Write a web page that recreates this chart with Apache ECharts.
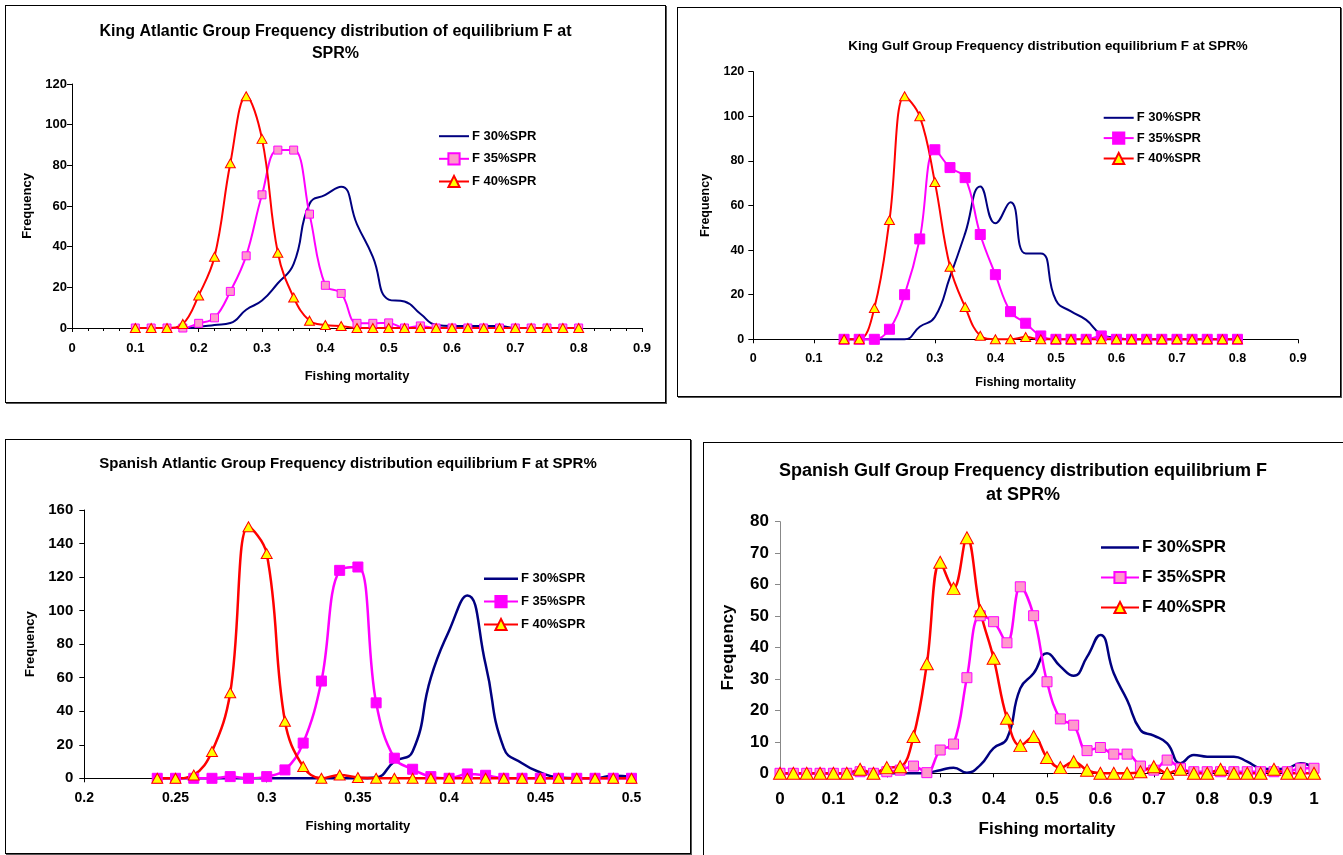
<!DOCTYPE html>
<html><head><meta charset="utf-8">
<script src="https://cdn.jsdelivr.net/npm/echarts@6/dist/echarts.min.js"></script>
<style>
html,body{margin:0;padding:0;background:#fff;overflow:hidden;width:1343px;height:855px;position:relative}
.box{position:absolute;border:1px solid #000;box-shadow:1px 1px 0 #555;box-sizing:border-box}
.ch{position:absolute}
</style></head><body>
<div class="box" style="left:5px;top:5px;width:661px;height:398px"></div>
<div class="box" style="left:677px;top:7px;width:664px;height:390px"></div>
<div class="box" style="left:5px;top:439px;width:686px;height:415px"></div>
<div class="box" style="left:703px;top:442px;width:660px;height:440px"></div>
<div id="c1" class="ch" style="left:6px;top:6px;width:659px;height:396px"></div>
<div id="c2" class="ch" style="left:678px;top:8px;width:740px;height:388px"></div>
<div id="c3" class="ch" style="left:6px;top:440px;width:684px;height:413px"></div>
<div id="c4" class="ch" style="left:703px;top:441px;width:640px;height:414px"></div>
<script>
// ---- King Atlantic ----
const kaX   = [0.1,0.125,0.15,0.175,0.2,0.225,0.25,0.275,0.3,0.325,0.35,0.375,0.4,0.425,0.45,0.475,0.5,0.525,0.55,0.575,0.6,0.625,0.65,0.675,0.7,0.725,0.75,0.775,0.8];
const kaF30 = [0,0,0,0,0.5,1.5,2.5,9,13.5,22,31.5,61,65.5,69.5,51,35,14,13,7,1.5,1,1,1,1,0,0,0,0,0];
const kaF35 = [0,0,0,0,2.3,5,18,35.5,65.5,87.5,87.5,56,21,17,2.3,2.3,2.5,0,1,0,0,0,0,0,0,0,0,0,0];
const kaF40 = [0,0,0,2,16,35,81,114,93,37,15,3.6,1.5,1,0,0,0,0,0,0,0,0,0,0,0,0,0,0,0];
// ---- King Gulf ----
const kgX   = [0.15,0.175,0.2,0.225,0.25,0.275,0.3,0.325,0.35,0.375,0.4,0.425,0.45,0.475,0.5,0.525,0.55,0.575,0.6,0.625,0.65,0.675,0.7,0.725,0.75,0.775,0.8];
const kgF30 = [0,0,0,0,0,5.6,10,28,47.5,68.5,52,61.5,38.5,38.5,17.5,12.5,8.7,2.2,0.6,0,0,0,0,0,0,0,0];
const kgF35 = [0,0,0,4.5,20,45,85,77,72.5,47,29,12.4,7.2,1.5,0,0,0,1.5,0,0,0,0,0,0,0,0,0];
const kgF40 = [0,0,14,53.5,109,100,70.5,32.5,14.5,1.6,0,0,1,0,0,0,0,0,0,0,0,0,0,0,0,0,0];
// ---- Spanish Atlantic ----
const saX   = [0.24,0.25,0.26,0.27,0.28,0.29,0.30,0.31,0.32,0.33,0.34,0.35,0.36,0.37,0.38,0.39,0.40,0.41,0.42,0.43,0.44,0.45,0.46,0.47,0.48,0.49,0.50];
const saF30 = [0,0,0,0,0,0,0,0,0,0,0,0,0.5,10,16,60,88,109,68,18,9,3.5,0.5,0,0,1.5,1];
const saF35 = [0,0,0,0,1,0,1,5,21,58,124,126,45,12,5.4,1,0,2.6,1.8,0,0,0,0,0,0,0,0];
const saF40 = [0,0,2,16,51,150,134,34,7,0,2,0.5,0,0,0,0,0,0,0,0,0,0,0,0,0,0,0];
// ---- Spanish Gulf ----
const sgX   = [0,0.025,0.05,0.075,0.1,0.125,0.15,0.175,0.2,0.225,0.25,0.275,0.3,0.325,0.35,0.375,0.4,0.425,0.45,0.475,0.5,0.525,0.55,0.575,0.6,0.625,0.65,0.675,0.7,0.725,0.75,0.775,0.8,0.825,0.85,0.875,0.9,0.925,0.95,0.975,1];
const sgF30 = [0,0,0,0,0,0,0,0,0,0,0,0.2,1,1.8,0.2,2.6,8,11,27,31.8,38.2,34,31,37,44,31.8,23.3,13.8,12,9.5,3.2,5.8,5.3,5.3,5.3,3.7,1.6,1.3,1.6,3.2,1.6];
const sgF35 = [0,0,0,0,0,0,0.5,0,0.5,1,2.3,0.2,7.4,9.3,30.4,50.1,48.2,41.5,59.3,50.1,29.1,17.3,15.3,7.2,8.2,6.1,6.1,2.3,1,4.2,1.6,0.5,0.5,0.5,0.5,0.5,0.5,0.5,0.5,1.6,1.6];
const sgF40 = [0,0,0,0,0,0,1.3,0,1.8,2.1,11.7,34.8,67.1,58.8,74.9,51.7,36.6,17.5,8.8,11.7,5,1.8,3.7,1,0,0,0,0.5,2.1,0,1.3,0,0,1.3,0,0,0,1.3,0,0,0];

const seriesNames = ['F 30%SPR','F 35%SPR','F 40%SPR'];
const FONT = "'Liberation Sans', Arial, sans-serif";

function pairs(xs, ys){ return xs.map((x,i)=>[x, ys[i]]); }

function build(id, c){
  const chart = echarts.init(document.getElementById(id), null, {renderer:'canvas'});
  const txt = (size)=>({fontFamily:FONT, fontWeight:'bold', fontSize:size, color:'#000'});
  chart.setOption({
    animation:false,
    title:{text:c.title, left:'center', top:c.titleTop, padding:0,
      textStyle:Object.assign(txt(c.titleSize),{lineHeight:c.titleLH})},
    legend:{orient:'vertical', left:c.legLeft, top:c.legTop, itemWidth:c.legW, itemHeight:14,
      itemGap:c.legGap, padding:0, textStyle:Object.assign(txt(c.legSize),{padding:[0,0,0,-2]}),
      data:[{name:seriesNames[0], icon:'path://M0,0H'+c.legW+'V'+c.lw+'H0Z'}, seriesNames[1], seriesNames[2]]},
    grid:{left:c.grid[0], top:c.grid[1], width:c.grid[2], height:c.grid[3], containLabel:false},
    xAxis:{type:'value', min:c.xMin, max:c.xMax, interval:c.xInt,
      name:'Fishing mortality', nameLocation:'middle', nameGap:c.xNameGap, nameTextStyle:txt(c.nameSize),
      axisLine:{show:true, onZero:false, lineStyle:{color:'#000', width:1}},
      axisTick:{show:true, inside:false, length:4, lineStyle:{color:'#000'}},
      minorTick:{show:!!c.minor, splitNumber:4, length:3, lineStyle:{color:'#000'}},
      axisLabel:Object.assign(txt(c.labSize),{margin:c.xLabMargin}),
      splitLine:{show:false}},
    yAxis:{type:'value', min:0, max:c.yMax, interval:c.yInt,
      name:'Frequency', nameLocation:'middle', nameGap:c.yNameGap, nameTextStyle:txt(c.nameSize),
      axisLine:{show:true, lineStyle:{color:c.yLineColor||'#000', width:1}},
      axisTick:{show:true, inside:false, length:5, lineStyle:{color:c.yLineColor||'#000'}},
      axisLabel:Object.assign(txt(c.yLabSize||c.labSize),{margin:c.yLabMargin}),
      splitLine:{show:false}},
    series:[
      {name:seriesNames[0], type:'line', smooth:0.5, symbol:'none', clip:false,
        lineStyle:{color:'#000080', width:c.lw}, itemStyle:{color:'#000080'},
        data:pairs(c.x, c.f30)},
      {name:seriesNames[1], type:'line', smooth:0.4, symbol:'rect', symbolSize:c.sq, clip:false,
        lineStyle:{color:'#FF00FF', width:c.lw},
        itemStyle:{color:c.sqFill, borderColor:'#FF00FF', borderWidth:1},
        data:pairs(c.x, c.f35)},
      {name:seriesNames[2], type:'line', smooth:0.4, symbol:'triangle', symbolSize:c.tri, clip:false,
        lineStyle:{color:'#FF0000', width:c.lw},
        itemStyle:{color:'#FFFF00', borderColor:'#FF0000', borderWidth:1},
        data:pairs(c.x, c.f40)}
    ]
  });
}

build('c1', {
  title:'King Atlantic Group Frequency distribution of equilibrium F at\nSPR%', titleTop:14, titleSize:16, titleLH:22.5,
  legLeft:432, legTop:123.7, legW:30, legGap:9.5, legSize:13,
  grid:[66,78,570,244], xMin:0, xMax:0.9, xInt:0.1, yMax:120, yInt:20, minor:true,
  labSize:13, nameSize:13, xNameGap:42, yNameGap:37, xLabMargin:14, yLabMargin:5,
  lw:2, sq:8, sqFill:'#FF99CC', tri:[10,9],
  x:kaX, f30:kaF30, f35:kaF35, f40:kaF40
});
build('c2', {
  title:'King Gulf Group Frequency distribution equilibrium F at SPR%', titleTop:30, titleSize:13.4, titleLH:16,
  legLeft:424.7, legTop:103.3, legW:30, legGap:7.2, legSize:13,
  grid:[75.3,63.7,544.7,267.6], xMin:0, xMax:0.9, xInt:0.1, yMax:120, yInt:20,
  labSize:12.5, nameSize:12.5, xNameGap:37, yNameGap:40, xLabMargin:13, yLabMargin:9,
  lw:2, sq:10, sqFill:'#FF00FF', tri:[10,9],
  x:kgX, f30:kgF30, f35:kgF35, f40:kgF40
});
build('c3', {
  title:'Spanish Atlantic Group Frequency distribution equilibrium F at SPR%', titleTop:14.5, titleSize:15, titleLH:18,
  legLeft:477, legTop:132.3, legW:34, legGap:9.7, legSize:13,
  grid:[78.3,70,547.2,268.3], xMin:0.2, xMax:0.5, xInt:0.05, yMax:160, yInt:20,
  labSize:14, yLabSize:15, nameSize:13, xNameGap:42, yNameGap:45, xLabMargin:13, yLabMargin:11,
  lw:2.5, sq:10, sqFill:'#FF00FF', tri:[11,10],
  x:saX, f30:saF30, f35:saF35, f40:saF40
});
build('c4', {
  title:'Spanish Gulf Group Frequency distribution equilibrium F\nat SPR%', titleTop:18.5, titleSize:18, titleLH:24,
  legLeft:397, legTop:98, legW:38, legGap:13, legSize:17,
  grid:[77,80.7,534,251.6], xMin:0, xMax:1, xInt:0.1, yMax:80, yInt:10,
  labSize:17, nameSize:17, xNameGap:48, yNameGap:43, xLabMargin:18, yLabMargin:11, yLineColor:'#888',
  lw:2.5, sq:10, sqFill:'#FF99CC', tri:[13,12],
  x:sgX, f30:sgF30, f35:sgF35, f40:sgF40
});
</script>
</body></html>
